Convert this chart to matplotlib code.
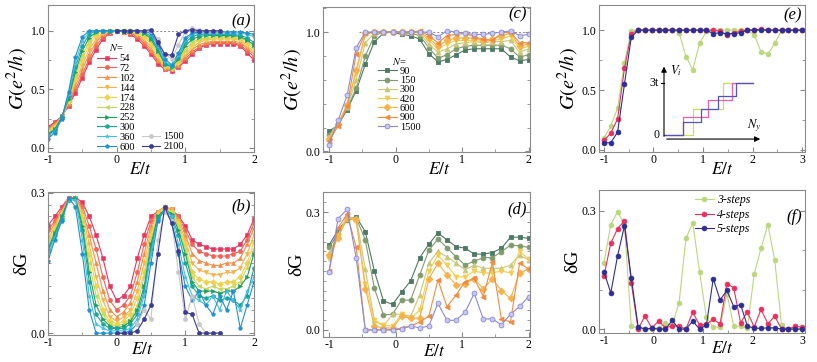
import numpy as np
import matplotlib
matplotlib.use("Agg")
import matplotlib.pyplot as plt
from matplotlib.ticker import MultipleLocator, FormatStrFormatter

plt.rcParams['font.family'] = ['Liberation Serif', 'DejaVu Serif']
plt.rcParams['mathtext.fontset'] = 'stix'
plt.rcParams['axes.unicode_minus'] = False

# ---------------- panels (a) and (b) ----------------
E_ab = np.round(np.arange(-1.0, 2.001, 0.1), 2)
N_ab = ['54', '72', '102', '144', '174', '228', '252', '300', '360', '600']
col_ab = ['#e8365e', '#f0645a', '#f58c48', '#f5b24e', '#f0d24c', '#c6d65e',
          '#1ea05c', '#16a69c', '#44bee2', '#2290cc']
mk_ab = ['s', 'o', '^', 'v', 'D', '<', '>', 'h', '*', 'p']

G_ab = [
    [0.18, 0.22, 0.27, 0.36, 0.47, 0.60, 0.73, 0.84, 0.93, 0.98, 1.00, 0.99, 0.97, 0.93, 0.87, 0.80, 0.72, 0.67, 0.66, 0.69, 0.74, 0.80, 0.85, 0.88, 0.89, 0.89, 0.89, 0.89, 0.87, 0.81, 0.75],
    [0.17, 0.21, 0.27, 0.37, 0.50, 0.63, 0.76, 0.87, 0.95, 0.99, 1.00, 0.99, 0.98, 0.95, 0.89, 0.82, 0.74, 0.68, 0.67, 0.70, 0.76, 0.82, 0.86, 0.89, 0.90, 0.90, 0.90, 0.90, 0.88, 0.83, 0.78],
    [0.16, 0.20, 0.27, 0.38, 0.53, 0.67, 0.80, 0.90, 0.97, 1.00, 1.00, 1.00, 0.99, 0.96, 0.91, 0.84, 0.75, 0.68, 0.67, 0.71, 0.78, 0.84, 0.88, 0.90, 0.91, 0.91, 0.91, 0.91, 0.90, 0.85, 0.80],
    [0.15, 0.19, 0.26, 0.39, 0.56, 0.71, 0.84, 0.93, 0.98, 1.00, 1.00, 1.00, 0.99, 0.97, 0.93, 0.86, 0.77, 0.69, 0.67, 0.72, 0.80, 0.86, 0.90, 0.92, 0.93, 0.93, 0.93, 0.93, 0.92, 0.87, 0.82],
    [0.14, 0.18, 0.26, 0.40, 0.59, 0.75, 0.88, 0.96, 0.99, 1.00, 1.00, 1.00, 1.00, 0.98, 0.95, 0.89, 0.79, 0.70, 0.68, 0.73, 0.82, 0.88, 0.92, 0.93, 0.94, 0.94, 0.94, 0.94, 0.93, 0.89, 0.84],
    [0.13, 0.17, 0.26, 0.41, 0.62, 0.79, 0.91, 0.98, 1.00, 1.00, 1.00, 1.00, 1.00, 0.99, 0.96, 0.91, 0.81, 0.71, 0.68, 0.74, 0.84, 0.90, 0.93, 0.94, 0.95, 0.95, 0.95, 0.95, 0.94, 0.91, 0.86],
    [0.12, 0.16, 0.26, 0.42, 0.65, 0.83, 0.94, 0.99, 1.00, 1.00, 1.00, 1.00, 1.00, 1.00, 0.98, 0.93, 0.83, 0.72, 0.69, 0.76, 0.87, 0.93, 0.95, 0.96, 0.96, 0.96, 0.96, 0.96, 0.95, 0.92, 0.88],
    [0.11, 0.15, 0.26, 0.44, 0.69, 0.87, 0.97, 1.00, 1.00, 1.00, 1.00, 1.00, 1.00, 1.00, 0.99, 0.95, 0.85, 0.72, 0.70, 0.78, 0.90, 0.95, 0.97, 0.97, 0.97, 0.97, 0.97, 0.97, 0.96, 0.94, 0.90],
    [0.10, 0.14, 0.25, 0.46, 0.73, 0.91, 0.99, 1.00, 1.00, 1.00, 1.00, 1.00, 1.00, 1.00, 1.00, 0.97, 0.87, 0.74, 0.70, 0.79, 0.92, 0.97, 0.98, 0.98, 0.98, 0.98, 0.98, 0.98, 0.98, 0.97, 0.95],
    [0.08, 0.13, 0.25, 0.48, 0.78, 0.95, 1.00, 1.00, 1.00, 1.00, 1.00, 1.00, 1.00, 1.00, 1.00, 0.98, 0.89, 0.76, 0.71, 0.81, 0.94, 0.98, 0.99, 0.99, 0.99, 0.99, 0.99, 0.99, 0.99, 0.98, 0.97],
]
dG_ab = [
    [0.23, 0.25, 0.27, 0.29, 0.29, 0.28, 0.25, 0.21, 0.16, 0.10, 0.07, 0.08, 0.10, 0.16, 0.21, 0.25, 0.26, 0.27, 0.265, 0.25, 0.23, 0.20, 0.19, 0.185, 0.18, 0.18, 0.18, 0.18, 0.19, 0.21, 0.245],
    [0.22, 0.24, 0.265, 0.29, 0.29, 0.27, 0.23, 0.18, 0.12, 0.07, 0.05, 0.06, 0.08, 0.13, 0.19, 0.24, 0.26, 0.27, 0.265, 0.25, 0.22, 0.19, 0.175, 0.17, 0.165, 0.165, 0.165, 0.17, 0.175, 0.20, 0.235],
    [0.21, 0.235, 0.26, 0.29, 0.29, 0.265, 0.21, 0.15, 0.09, 0.05, 0.035, 0.045, 0.065, 0.11, 0.17, 0.23, 0.26, 0.27, 0.265, 0.245, 0.21, 0.17, 0.155, 0.15, 0.145, 0.145, 0.15, 0.15, 0.16, 0.19, 0.225],
    [0.20, 0.23, 0.26, 0.285, 0.29, 0.26, 0.19, 0.12, 0.07, 0.035, 0.025, 0.035, 0.05, 0.09, 0.15, 0.22, 0.26, 0.27, 0.265, 0.24, 0.20, 0.15, 0.135, 0.13, 0.125, 0.125, 0.13, 0.13, 0.14, 0.17, 0.21],
    [0.19, 0.225, 0.255, 0.285, 0.29, 0.25, 0.17, 0.10, 0.05, 0.025, 0.02, 0.025, 0.04, 0.075, 0.13, 0.21, 0.255, 0.27, 0.26, 0.235, 0.19, 0.13, 0.115, 0.11, 0.11, 0.105, 0.11, 0.11, 0.12, 0.15, 0.195],
    [0.185, 0.22, 0.25, 0.285, 0.29, 0.24, 0.15, 0.08, 0.04, 0.02, 0.015, 0.02, 0.03, 0.06, 0.12, 0.20, 0.25, 0.265, 0.26, 0.23, 0.18, 0.12, 0.10, 0.095, 0.10, 0.095, 0.095, 0.10, 0.11, 0.14, 0.18],
    [0.18, 0.215, 0.25, 0.285, 0.29, 0.23, 0.13, 0.06, 0.03, 0.015, 0.01, 0.015, 0.025, 0.05, 0.10, 0.19, 0.25, 0.265, 0.255, 0.22, 0.17, 0.11, 0.09, 0.09, 0.09, 0.085, 0.09, 0.09, 0.10, 0.12, 0.17],
    [0.175, 0.21, 0.245, 0.285, 0.29, 0.22, 0.11, 0.04, 0.02, 0.01, 0.01, 0.01, 0.02, 0.04, 0.09, 0.18, 0.245, 0.265, 0.25, 0.21, 0.15, 0.10, 0.08, 0.075, 0.08, 0.07, 0.075, 0.07, 0.06, 0.08, 0.14],
    [0.165, 0.205, 0.24, 0.285, 0.285, 0.20, 0.08, 0.02, 0.01, 0.005, 0.005, 0.005, 0.01, 0.03, 0.08, 0.17, 0.24, 0.265, 0.25, 0.19, 0.12, 0.08, 0.07, 0.06, 0.08, 0.05, 0.09, 0.07, 0.05, 0.09, 0.12],
    [0.155, 0.20, 0.24, 0.29, 0.27, 0.17, 0.05, 0.0, 0.0, 0.0, 0.0, 0.0, 0.005, 0.02, 0.06, 0.15, 0.24, 0.265, 0.24, 0.17, 0.10, 0.07, 0.09, 0.06, 0.04, 0.08, 0.05, 0.09, 0.01, 0.06, 0.11],
]
# large sizes cover only part of the energy range
E_1500 = E_ab[13:26]
G_1500 = [1.0, 1.0, 1.0, 0.93, 0.80, 0.76, 0.88, 0.99, 1.02, 1.01, 1.0, 1.0, 1.0]
dG_1500 = [0.02, 0.05, 0.03, 0.20, 0.26, 0.24, 0.13, 0.03, 0.08, 0.02, 0.0, 0.0, 0.0]
E_2100 = E_ab[10:26]
G_2100 = [1.0, 1.0, 1.0, 1.0, 1.0, 1.01, 0.90, 0.80, 0.79, 0.97, 1.0, 1.01, 1.0, 1.0, 1.0, 1.0]
dG_2100 = [0.0, 0.0, 0.0, 0.005, 0.03, 0.06, 0.17, 0.27, 0.235, 0.175, 0.045, 0.04, 0.0, 0.0, 0.0, 0.0]

# ---------------- panels (c) and (d) ----------------
E_cd = np.linspace(-1.0, 2.0, 23)
N_cd = ['90', '150', '300', '420', '600', '900', '1500']
col_cd = ['#4e7a64', '#809b6e', '#c9c87a', '#f5cc4c', '#f5b24a', '#f08c42', '#8a8ada']
mk_cd = ['s', 'o', '^', 'v', 'D', '<', 'o']
G_cd = [
    [0.17, 0.22, 0.35, 0.51, 0.73, 0.92, 0.99, 1.0, 0.98, 0.97, 0.94, 0.82, 0.75, 0.77, 0.81, 0.85, 0.86, 0.86, 0.86, 0.86, 0.79, 0.76, 0.77],
    [0.14, 0.23, 0.36, 0.53, 0.80, 0.97, 1.0, 1.0, 0.99, 0.99, 0.97, 0.87, 0.78, 0.81, 0.86, 0.88, 0.89, 0.89, 0.89, 0.89, 0.86, 0.79, 0.81],
    [0.12, 0.24, 0.37, 0.60, 0.91, 0.99, 1.0, 1.0, 1.0, 1.0, 0.99, 0.90, 0.83, 0.86, 0.90, 0.91, 0.92, 0.91, 0.92, 0.92, 0.93, 0.83, 0.86],
    [0.11, 0.24, 0.38, 0.66, 0.98, 1.0, 1.0, 1.0, 1.0, 1.0, 1.0, 0.93, 0.86, 0.90, 0.93, 0.93, 0.93, 0.92, 0.93, 0.94, 0.97, 0.86, 0.88],
    [0.10, 0.23, 0.39, 0.68, 0.99, 1.0, 1.0, 1.0, 1.0, 1.0, 1.0, 0.95, 0.88, 0.93, 0.95, 0.95, 0.95, 0.93, 0.94, 0.97, 0.99, 0.88, 0.90],
    [0.09, 0.21, 0.38, 0.82, 0.99, 1.0, 1.0, 1.0, 1.0, 1.0, 1.01, 0.97, 0.91, 0.97, 0.98, 0.99, 0.96, 0.94, 0.93, 0.99, 1.0, 0.91, 0.91],
    [0.056, 0.26, 0.47, 0.87, 1.0, 1.0, 1.0, 1.0, 1.0, 1.0, 1.0, 1.0, 0.96, 1.01, 1.0, 0.99, 0.98, 0.98, 0.99, 1.0, 1.01, 0.97, 0.98],
]
dG_cd = [
    [0.216, 0.254, 0.282, 0.288, 0.25, 0.15, 0.074, 0.065, 0.096, 0.125, 0.184, 0.218, 0.247, 0.229, 0.212, 0.208, 0.193, 0.193, 0.197, 0.208, 0.236, 0.236, 0.233],
    [0.21, 0.245, 0.28, 0.285, 0.229, 0.106, 0.038, 0.04, 0.076, 0.076, 0.14, 0.203, 0.231, 0.209, 0.186, 0.165, 0.175, 0.184, 0.184, 0.199, 0.216, 0.214, 0.21],
    [0.195, 0.24, 0.285, 0.285, 0.155, 0.024, 0.01, 0.04, 0.04, 0.035, 0.089, 0.17, 0.20, 0.186, 0.17, 0.153, 0.165, 0.157, 0.157, 0.157, 0.165, 0.19, 0.178],
    [0.18, 0.24, 0.29, 0.28, 0.118, 0.025, 0.012, 0.01, 0.04, 0.03, 0.05, 0.15, 0.19, 0.165, 0.135, 0.135, 0.15, 0.145, 0.145, 0.15, 0.145, 0.20, 0.18],
    [0.19, 0.235, 0.285, 0.28, 0.105, 0.01, 0.005, 0.005, 0.035, 0.03, 0.03, 0.13, 0.17, 0.14, 0.115, 0.118, 0.13, 0.105, 0.13, 0.10, 0.08, 0.145, 0.155],
    [0.15, 0.26, 0.295, 0.21, 0.0, 0.0, 0.0, 0.0, 0.005, 0.01, 0.02, 0.035, 0.127, 0.059, 0.089, 0.123, 0.131, 0.085, 0.172, 0.027, 0.021, 0.17, 0.155],
    [0.148, 0.283, 0.307, 0.183, 0.0, 0.0, 0.0, 0.0, 0.002, 0.01, 0.005, 0.01, 0.068, 0.024, 0.025, 0.045, 0.093, 0.028, 0.028, 0.013, 0.04, 0.06, 0.085],
]

# ---------------- panels (e) and (f) ----------------
E_ef = np.linspace(-1.0, 3.0, 30)
steps = ['3-steps', '4-steps', '5-steps']
col_ef = ['#bcd67e', '#e8305c', '#2e2e92']
G_ef = [
    [0.10, 0.20, 0.35, 0.73, 0.995, 1.0, 1.0, 1.0, 1.0, 1.0, 1.0, 0.98, 0.78, 0.67, 0.89, 0.99, 1.0, 1.0, 1.0, 1.0, 1.0, 1.0, 0.96, 0.82, 0.80, 0.89, 0.995, 1.0, 1.0, 1.0],
    [0.08, 0.14, 0.26, 0.68, 0.97, 1.0, 1.0, 1.0, 1.0, 1.0, 1.0, 1.0, 1.0, 1.0, 1.0, 1.0, 1.0, 0.99, 0.96, 0.98, 0.99, 1.0, 1.0, 1.01, 1.0, 1.0, 1.0, 1.0, 1.0, 1.0],
    [0.06, 0.06, 0.15, 0.55, 0.94, 1.0, 1.0, 1.0, 1.0, 1.0, 1.0, 1.0, 1.0, 1.0, 1.0, 1.0, 0.97, 0.98, 0.97, 0.97, 0.98, 1.0, 1.0, 1.0, 1.0, 1.0, 1.0, 1.0, 1.0, 1.0],
]
dG_ef = [
    [0.167, 0.265, 0.298, 0.265, 0.007, 0.003, 0.0, 0.0, 0.003, 0.015, 0.01, 0.067, 0.23, 0.27, 0.145, 0.03, 0.005, 0.005, 0.09, 0.008, 0.007, 0.003, 0.14, 0.205, 0.265, 0.175, 0.01, 0.0, 0.0, 0.0],
    [0.135, 0.218, 0.255, 0.275, 0.118, 0.0, 0.033, 0.003, 0.02, 0.003, 0.008, 0.007, 0.0, 0.043, 0.01, 0.012, 0.025, 0.013, 0.115, 0.105, 0.016, 0.043, 0.005, 0.05, 0.013, 0.033, 0.0, 0.0, 0.007, 0.005],
    [0.145, 0.092, 0.186, 0.262, 0.13, 0.006, 0.0, 0.002, 0.0, 0.0, 0.022, 0.0, 0.0, 0.02, 0.0, 0.01, 0.128, 0.074, 0.098, 0.057, 0.062, 0.008, 0.002, 0.002, 0.003, 0.003, 0.0, 0.0, 0.0, 0.0],
]

# inset staircases (position along N_y, potential in units of t)
inset_cols = ['#c8e05a', '#f060a8', '#5252c8']
stair_x = [[0, 2.9, 5.9, 8.9], [0, 1.9, 4.4, 6.8, 8.9], [0, 1.9, 3.7, 5.4, 7.2, 8.9]]
stair_v = [[0, 1.5, 3, 3], [0, 1, 2, 3, 3], [0, 0.75, 1.5, 2.25, 3, 3]]

W, H = 817, 362
fig = plt.figure(figsize=(W / 100, H / 100), dpi=100)


def box(l, t, r, b):
    return [l / W, 1 - b / H, (r - l) / W, (b - t) / H]


spine_c = '#8a8a8a'


def style(ax, xmaj, xmin, ymaj, ymin, yfmt):
    for s in ax.spines.values():
        s.set_color(spine_c)
        s.set_linewidth(0.8)
    ax.xaxis.set_major_locator(MultipleLocator(xmaj))
    ax.xaxis.set_minor_locator(MultipleLocator(xmin))
    ax.yaxis.set_major_locator(MultipleLocator(ymaj))
    ax.yaxis.set_minor_locator(MultipleLocator(ymin))
    ax.yaxis.set_major_formatter(FormatStrFormatter(yfmt))
    ax.tick_params(which='both', direction='in', right=True, top=False,
                   color=spine_c, labelsize=8.5, pad=2)
    ax.tick_params(axis='x', which='both', pad=1.5)
    ax.tick_params(which='major', length=3.5)
    ax.tick_params(which='minor', length=2)


def labels(ax, ylab, xpos, ypos):
    ax.set_xlabel(r'$E/t$', fontsize=12.5)
    ax.xaxis.set_label_coords(xpos, ypos)
    if ylab == 'G':
        ax.set_ylabel(r'$G(e^2/h)$', fontsize=14.5, labelpad=0)
    else:
        ax.set_ylabel('δG', fontsize=14, labelpad=0)


ax_a = fig.add_axes(box(48, 5, 254, 152))
ax_b = fig.add_axes(box(48, 192, 254, 335))
ax_c = fig.add_axes(box(323, 7, 530, 152))
ax_d = fig.add_axes(box(323, 192, 530, 337))
ax_e = fig.add_axes(box(599, 5, 805, 152))
ax_f = fig.add_axes(box(599, 190, 805, 333))

kw = dict(lw=0.8, ms=3, mew=0.4)

# (a)
ax_a.plot([-0.5, 2.0], [1.0, 1.0], ls=(0, (2, 2)), color='#888888', lw=0.7)
h_a = []
for n, c, m, g in zip(N_ab, col_ab, mk_ab, G_ab):
    h, = ax_a.plot(E_ab, g, color=c, marker=m, mec=c, label=n, **kw)
    h_a.append(h)
h15, = ax_a.plot(E_1500, G_1500, color='#c8c8c8', marker='o', mec='#c8c8c8', label='1500', **kw)
h21, = ax_a.plot(E_2100, G_2100, color='#3c3c96', marker='o', mec='#3c3c96', label='2100', **kw)
ax_a.set_xlim(-1.0, 2.0)
ax_a.set_ylim(-0.035, 1.22)
style(ax_a, 1, 0.5, 0.5, 0.25, '%.1f')
labels(ax_a, 'G', 0.45, -0.07)
ax_a.text(0.985, 0.86, '(a)', style='italic', fontsize=12, ha='right', transform=ax_a.transAxes)
leg1 = ax_a.legend(handles=h_a, title=r'$N$=', loc='upper left', bbox_to_anchor=(0.24, 0.745),
                   frameon=False, fontsize=7.5, title_fontsize=7.5, handlelength=1.8,
                   handletextpad=0.3, labelspacing=0.05, borderpad=0, borderaxespad=0)
ax_a.add_artist(leg1)
ax_a.legend(handles=[h15, h21], loc='lower left', bbox_to_anchor=(0.455, 0.005),
            frameon=False, fontsize=7.5, handlelength=1.8, handletextpad=0.3,
            labelspacing=0.05, borderpad=0, borderaxespad=0)

# (b)
for n, c, m, d in zip(N_ab, col_ab, mk_ab, dG_ab):
    ax_b.plot(E_ab, d, color=c, marker=m, mec=c, **kw)
ax_b.plot(E_1500, dG_1500, color='#c8c8c8', marker='o', mec='#c8c8c8', **kw)
ax_b.plot(E_2100, dG_2100, color='#3c3c96', marker='o', mec='#3c3c96', **kw)
ax_b.set_xlim(-1.0, 2.0)
ax_b.set_ylim(-0.004, 0.302)
style(ax_b, 1, 0.5, 0.3, 0.025, '%.1f')
labels(ax_b, 'd', 0.46, -0.05)
ax_b.text(0.985, 0.87, '(b)', style='italic', fontsize=12, ha='right', transform=ax_b.transAxes)

# (c)
ax_c.plot([-0.55, 2.0], [1.0, 1.0], ls=(0, (2, 2)), color='#888888', lw=0.7)
h_c = []
for n, c, m, g in zip(N_cd, col_cd, mk_cd, G_cd):
    fc = '#c8c8f0' if n == '1500' else c
    h, = ax_c.plot(E_cd, g, color=c, marker=m, mec=c, mfc=fc, label=n, lw=0.8, ms=3.5, mew=0.6)
    h_c.append(h)
ax_c.set_xlim(-1.09, 2.02)
ax_c.set_ylim(-0.005, 1.21)
style(ax_c, 1, 0.5, 1.0, 0.2, '%.1f')
labels(ax_c, 'G', 0.56, -0.07)
ax_c.text(0.985, 0.92, '(c)', style='italic', fontsize=12, ha='right', transform=ax_c.transAxes)
ax_c.legend(handles=h_c, title=r'$N$=', loc='upper left', bbox_to_anchor=(0.265, 0.665),
            frameon=False, fontsize=7.5, title_fontsize=7.5, handlelength=1.8,
            handletextpad=0.3, labelspacing=0.0, borderpad=0, borderaxespad=0)

# (d)
for n, c, m, d in zip(N_cd, col_cd, mk_cd, dG_cd):
    fc = '#c8c8f0' if n == '1500' else c
    ax_d.plot(E_cd, d, color=c, marker=m, mec=c, mfc=fc, lw=0.8, ms=3.5, mew=0.6)
ax_d.set_xlim(-1.09, 2.02)
ax_d.set_ylim(-0.018, 0.351)
style(ax_d, 1, 0.5, 0.3, 0.025, '%.1f')
labels(ax_d, 'd', 0.54, -0.045)
ax_d.text(0.985, 0.855, '(d)', style='italic', fontsize=12, ha='right', transform=ax_d.transAxes)

# (e)
for s, c, g in zip(steps, col_ef, G_ef):
    ax_e.plot(E_ef, g, color=c, marker='o', mec=c, lw=0.8, ms=3.5, mew=0.5)
ax_e.set_xlim(-1.1, 3.06)
ax_e.set_ylim(-0.017, 1.21)
style(ax_e, 1, 0.5, 0.5, 0.25, '%.1f')
labels(ax_e, 'G', 0.6, -0.07)
ax_e.text(0.985, 0.9, '(e)', style='italic', fontsize=12, ha='right', transform=ax_e.transAxes)

# inset of (e)
ins = fig.add_axes(box(655, 62, 766, 142))
ins.set_xlim(-0.9, 10.2)
ins.set_ylim(-0.42, 4.2)
ins.axis('off')
for c, sx, sv in zip(inset_cols, stair_x, stair_v):
    ins.step(sx, sv, where='post', color=c, lw=0.9)
ins.annotate('', xy=(0, 4.1), xytext=(0, -0.25),
             arrowprops=dict(arrowstyle='-|>', color='black', lw=0.8, mutation_scale=8))
ins.annotate('', xy=(9.9, -0.25), xytext=(0, -0.25),
             arrowprops=dict(arrowstyle='-|>', color='black', lw=0.8, mutation_scale=8))
ins.plot([-0.3, 0], [3, 3], color='black', lw=0.8)
ins.text(0.6, 3.7, r'$V_i$', fontsize=9, va='center')
ins.text(-0.5, 3, '3t', fontsize=8.5, ha='right', va='center')
ins.text(-0.5, 0, '0', fontsize=8.5, ha='right', va='center')
ins.text(8.3, 0.5, r'$N_y$', fontsize=9, va='center')

# (f)
h_f = []
for s, c, d in zip(steps, col_ef, dG_ef):
    h, = ax_f.plot(E_ef, d, color=c, marker='o', mec=c, lw=0.8, ms=3.5, mew=0.5, label=s)
    h_f.append(h)
ax_f.set_xlim(-1.1, 3.06)
ax_f.set_ylim(-0.01, 0.353)
style(ax_f, 1, 0.5, 0.3, 0.1, '%.1f')
labels(ax_f, 'd', 0.6, -0.055)
ax_f.text(0.985, 0.78, '(f)', style='italic', fontsize=12, ha='right', transform=ax_f.transAxes)
ax_f.legend(handles=h_f, loc='upper left', bbox_to_anchor=(0.465, 0.97), frameon=False,
            prop={'style': 'italic', 'size': 8.5}, handlelength=1.6, handletextpad=0.3,
            labelspacing=0.2, borderpad=0, borderaxespad=0)

fig.savefig('out.png', dpi=100)
